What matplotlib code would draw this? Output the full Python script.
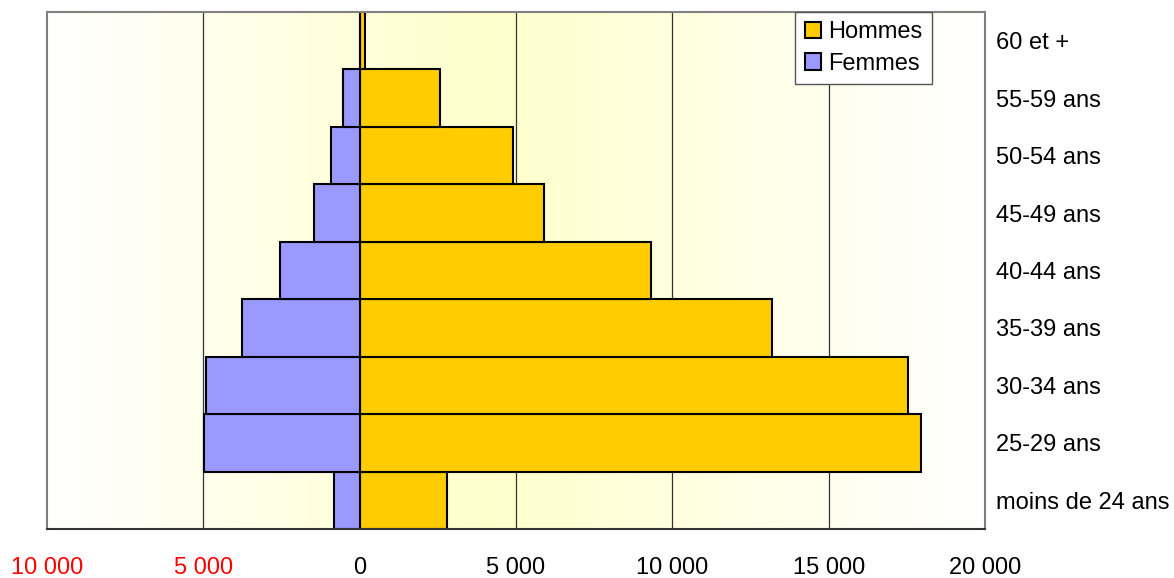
import matplotlib.pyplot as plt
import numpy as np
from matplotlib.colors import LinearSegmentedColormap

# age groups, bottom to top
categories = ["moins de 24 ans", "25-29 ans", "30-34 ans", "35-39 ans", "40-44 ans",
              "45-49 ans", "50-54 ans", "55-59 ans", "60 et +"]
hommes = [2800, 17950, 17550, 13180, 9330, 5880, 4900, 2580, 170]
femmes = [-830, -4980, -4920, -3760, -2560, -1460, -920, -540, 0]

x_ticks = [-10000, -5000, 0, 5000, 10000, 15000, 20000]
x_labels = ["10 000", "5 000", "0", "5 000", "10 000", "15 000", "20 000"]
x_label_colors = ["red", "red", "black", "black", "black", "black", "black"]

plt.rcParams['font.family'] = ['Liberation Sans', 'DejaVu Sans']
plt.rcParams['font.size'] = 17

fig = plt.figure(figsize=(11.74, 5.78), dpi=100)
ax = fig.add_axes([47 / 1174, 1 - 529 / 578, (985 - 47) / 1174, (529 - 12) / 578])

# background: white -> light yellow -> white
cmap = LinearSegmentedColormap.from_list(
    "bg", [(0.0, "#ffffff"), (0.47, "#ffffcc"), (1.0, "#ffffff")])
grad = np.linspace(0, 1, 512).reshape(1, -1)
ax.imshow(grad, cmap=cmap, aspect='auto', extent=(-10000, 20000, -0.5, 8.5), zorder=0)

for x in [-5000, 5000, 10000, 15000]:
    ax.axvline(x, color='#333333', lw=0.9, zorder=1)

y = np.arange(len(categories))
ax.barh(y, hommes, height=1.0, color='#ffcc00', edgecolor='black', lw=1.5,
        label="Hommes", zorder=2)
ax.barh(y, femmes, height=1.0, color='#9999ff', edgecolor='black', lw=1.5,
        label="Femmes", zorder=2)

ax.set_xlim(-10000, 20000)
ax.set_ylim(-0.5, 8.5)

ax.set_xticks(x_ticks)
ax.set_xticklabels(x_labels)
for lbl, c in zip(ax.get_xticklabels(), x_label_colors):
    lbl.set_color(c)
ax.tick_params(axis='x', length=0, pad=20)

ax.yaxis.tick_right()
ax.set_yticks(y)
ax.set_yticklabels(categories)
ax.tick_params(axis='y', length=0, pad=8)

for side in ['left', 'right', 'top']:
    ax.spines[side].set_color('#808080')
    ax.spines[side].set_linewidth(1.5)
ax.spines['bottom'].set_color('#333333')
ax.spines['bottom'].set_linewidth(1.5)

leg = ax.legend(loc='upper right', bbox_to_anchor=(0.9435, 1.0), borderaxespad=0,
                fancybox=False, framealpha=1, edgecolor='#555555',
                handlelength=0.7, handleheight=0.7, handletextpad=0.3,
                labelspacing=0.4, borderpad=0.4)
leg.get_frame().set_linewidth(1.0)

fig.savefig("out.png", dpi=100)
